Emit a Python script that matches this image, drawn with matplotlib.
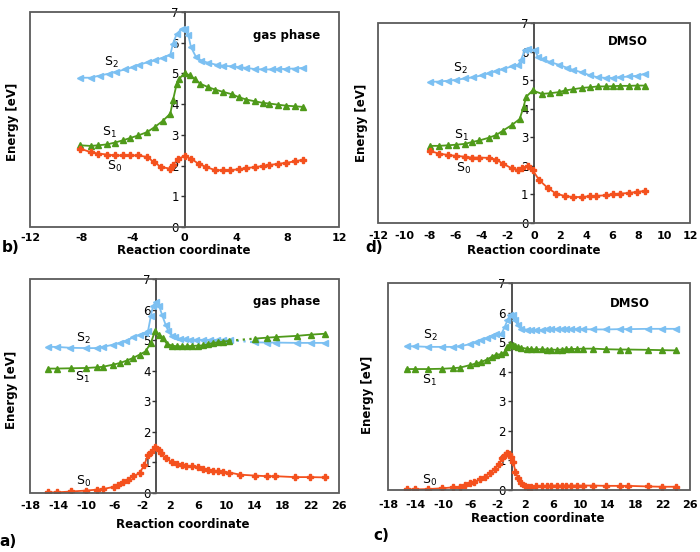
from matplotlib import pyplot as plt
from matplotlib.patches import Rectangle

# Panel b) gas phase, short coordinate
b_s2_x = [-8.1, -7.3, -6.6, -5.9, -5.3, -4.6, -4.0, -3.5, -2.8, -2.3, -1.7, -1.1, -0.9, -0.6, -0.2, 0.0,
          0.3, 0.5, 0.9, 1.3, 1.8, 2.5, 3.0, 3.7, 4.2, 4.8, 5.5, 6.1, 6.8, 7.3, 7.9, 8.6, 9.2]
b_s2_y = [4.86, 4.86, 4.93, 4.99, 5.06, 5.13, 5.21, 5.29, 5.37, 5.43, 5.51, 5.61, 5.97, 6.29, 6.46, 6.46,
          6.24, 5.86, 5.53, 5.42, 5.35, 5.28, 5.25, 5.23, 5.21, 5.18, 5.14, 5.13, 5.13, 5.14, 5.15, 5.16, 5.18]
b_s1_x = [-8.1, -7.3, -6.7, -6.0, -5.4, -4.8, -4.2, -3.6, -2.9, -2.3, -1.7, -1.1, -0.9, -0.6, -0.4, 0.0,
          0.4, 0.8, 1.2, 1.8, 2.4, 3.0, 3.7, 4.2, 4.8, 5.5, 6.1, 6.6, 7.3, 7.9, 8.6, 9.2]
b_s1_y = [2.66, 2.64, 2.66, 2.69, 2.75, 2.82, 2.90, 2.98, 3.09, 3.26, 3.45, 3.69, 4.12, 4.67, 4.83, 5.01,
          4.94, 4.82, 4.67, 4.56, 4.47, 4.40, 4.32, 4.23, 4.15, 4.09, 4.04, 4.02, 3.98, 3.95, 3.93, 3.91]
b_s0_x = [-8.1, -7.3, -6.7, -6.0, -5.4, -4.8, -4.2, -3.6, -2.9, -2.4, -1.8, -1.1, -0.9, -0.5, 0.0,
          0.5, 1.1, 1.7, 2.4, 3.0, 3.5, 4.2, 4.8, 5.5, 6.1, 6.6, 7.3, 7.9, 8.6, 9.2]
b_s0_y = [2.55, 2.44, 2.39, 2.36, 2.33, 2.33, 2.33, 2.33, 2.28, 2.12, 1.95, 1.90, 2.01, 2.22, 2.31,
          2.22, 2.06, 1.95, 1.85, 1.85, 1.85, 1.88, 1.92, 1.95, 1.99, 2.02, 2.06, 2.09, 2.14, 2.19]

# Panel d) DMSO, short coordinate
d_s2_x = [-8.0, -7.3, -6.6, -6.0, -5.3, -4.7, -4.0, -3.5, -2.9, -2.4, -1.7, -1.2, -1.0, -0.7, -0.45, 0.05,
          0.3, 0.7, 1.2, 1.9, 2.5, 3.0, 3.7, 4.3, 4.9, 5.5, 6.1, 6.6, 7.3, 7.9, 8.5]
d_s2_y = [4.94, 4.95, 4.98, 5.01, 5.06, 5.10, 5.17, 5.24, 5.32, 5.39, 5.48, 5.54, 5.71, 6.06, 6.08, 6.06,
          5.82, 5.73, 5.64, 5.54, 5.44, 5.36, 5.27, 5.17, 5.10, 5.08, 5.08, 5.10, 5.13, 5.15, 5.22]
d_s1_x = [-8.0, -7.3, -6.6, -6.0, -5.3, -4.8, -4.2, -3.5, -2.9, -2.4, -1.7, -1.1, -0.8, -0.6, -0.1,
          0.6, 1.2, 1.9, 2.4, 3.0, 3.7, 4.3, 4.9, 5.5, 6.1, 6.6, 7.3, 7.9, 8.5]
d_s1_y = [2.70, 2.70, 2.72, 2.74, 2.77, 2.83, 2.89, 2.98, 3.08, 3.23, 3.43, 3.64, 4.07, 4.42, 4.64,
          4.52, 4.54, 4.58, 4.64, 4.68, 4.73, 4.75, 4.78, 4.78, 4.79, 4.80, 4.80, 4.81, 4.81]
d_s0_x = [-8.0, -7.3, -6.6, -6.0, -5.3, -4.8, -4.2, -3.5, -2.9, -2.4, -1.7, -1.2, -0.9, -0.5, -0.1,
          0.4, 1.1, 1.7, 2.4, 3.0, 3.7, 4.3, 4.8, 5.5, 6.1, 6.6, 7.3, 7.9, 8.5]
d_s0_y = [2.52, 2.43, 2.38, 2.35, 2.32, 2.29, 2.29, 2.28, 2.22, 2.08, 1.91, 1.85, 1.93, 2.00, 1.85,
          1.50, 1.21, 1.03, 0.94, 0.91, 0.91, 0.94, 0.95, 0.97, 1.01, 1.03, 1.05, 1.09, 1.12]

# Panel a) gas phase, long coordinate
a_s2_x = [-15.4, -14.2, -12.3, -10.0, -8.5, -7.6, -6.2, -5.2, -4.3, -3.3, -2.4, -1.6, -1.2, -0.8, -0.5,
          -0.1, 0.4, 0.8, 1.3, 1.7, 2.2, 2.6, 3.3, 4.0, 4.8, 5.7, 6.7, 7.6, 8.6, 9.5, 10.5,
          14.0, 15.7, 17.0, 20.0, 22.0, 24.0]
a_s2_y = [4.78, 4.78, 4.75, 4.74, 4.74, 4.78, 4.85, 4.91, 4.98, 5.09, 5.18, 5.23, 5.29, 5.78, 6.11,
          6.24, 6.11, 5.83, 5.51, 5.29, 5.15, 5.09, 5.05, 5.04, 5.02, 5.01, 5.01, 5.01, 5.01, 5.01, 5.00,
          4.93, 4.92, 4.92, 4.91, 4.91, 4.91]
a_s1_x = [-15.4, -14.2, -12.1, -10.0, -8.5, -7.6, -6.15, -5.2, -4.25, -3.3, -2.35, -1.55, -0.8, -0.2,
          0.4, 0.9, 1.5, 2.2, 2.9, 3.6, 4.3, 5.0, 5.9, 6.7, 7.4, 8.1, 8.8, 9.5, 10.4,
          14.0, 15.7, 17.0, 20.0, 22.0, 24.0]
a_s1_y = [4.07, 4.07, 4.08, 4.09, 4.11, 4.13, 4.20, 4.25, 4.33, 4.42, 4.53, 4.63, 4.91, 5.29,
          5.18, 5.07, 4.88, 4.82, 4.80, 4.80, 4.80, 4.81, 4.82, 4.83, 4.87, 4.91, 4.93, 4.95, 4.98,
          5.05, 5.08, 5.10, 5.14, 5.18, 5.21]
a_s0_x = [-15.4, -14.2, -12.1, -10.0, -8.5, -7.6, -6.1, -5.4, -4.7, -4.0, -3.3, -2.4, -1.7, -1.2, -0.7,
          -0.2, 0.3, 0.7, 1.3, 2.2, 2.9, 3.6, 4.2, 5.0, 5.9, 6.7, 7.4, 8.1, 8.8, 9.5,
          10.4, 11.9, 14.0, 15.7, 16.9, 19.7, 21.8, 24.0]
a_s0_y = [0.02, 0.02, 0.05, 0.08, 0.11, 0.13, 0.20, 0.27, 0.35, 0.44, 0.55, 0.65, 0.93, 1.25, 1.33,
          1.49, 1.42, 1.31, 1.14, 1.01, 0.95, 0.93, 0.89, 0.87, 0.84, 0.80, 0.76, 0.73, 0.71, 0.69,
          0.67, 0.60, 0.57, 0.55, 0.55, 0.52, 0.52, 0.51]
# last solid point before the dotted stretch in panel a
a_s2_gap = 30
a_s1_gap = 28

# Panel c) DMSO, long coordinate
c_x = [-15.3, -14.1, -12.2, -10.1, -8.5, -7.5, -6.1, -5.2, -4.4, -3.6, -2.9, -2.2, -1.5, -1.0, -0.6,
       -0.25, 0.14, 0.48, 0.96, 1.45, 2.2, 2.9, 3.6, 4.4, 5.1, 5.8, 6.6, 7.3, 8.0, 8.7,
       9.5, 10.4, 11.9, 13.8, 15.8, 17.0, 19.9, 21.9, 24.0]
c_s2_y = [4.86, 4.86, 4.84, 4.84, 4.84, 4.86, 4.93, 4.99, 5.06, 5.14, 5.22, 5.29, 5.27, 5.51, 5.74,
          5.91, 5.93, 5.74, 5.57, 5.46, 5.42, 5.40, 5.40, 5.41, 5.44, 5.44, 5.45, 5.45, 5.45, 5.45,
          5.44, 5.44, 5.43, 5.43, 5.44, 5.44, 5.45, 5.45, 5.45]
c_s1_y = [4.09, 4.09, 4.09, 4.10, 4.12, 4.14, 4.22, 4.28, 4.33, 4.41, 4.50, 4.58, 4.59, 4.67, 4.82,
          4.93, 4.90, 4.86, 4.84, 4.81, 4.78, 4.76, 4.76, 4.76, 4.75, 4.75, 4.74, 4.75, 4.76, 4.77,
          4.77, 4.78, 4.78, 4.76, 4.75, 4.75, 4.74, 4.73, 4.72]
c_s0_x = [-15.3, -14.1, -12.2, -10.1, -8.5, -7.5, -6.8, -6.1, -5.4, -4.6, -3.9, -3.2, -2.4, -1.86, -1.37,
          -0.98, -0.64, -0.35, -0.01, 0.23, 0.57, 0.96, 1.45, 1.93, 2.42, 2.9, 3.6, 4.4, 5.1, 5.8,
          6.6, 7.3, 8.0, 8.7, 9.5, 10.4, 11.9, 13.8, 15.8, 17.0, 19.9, 21.9, 24.0]
c_s0_y = [0.02, 0.02, 0.03, 0.06, 0.09, 0.11, 0.17, 0.23, 0.28, 0.36, 0.45, 0.56, 0.71, 0.87, 1.07,
          1.18, 1.24, 1.22, 1.13, 0.96, 0.62, 0.39, 0.23, 0.14, 0.11, 0.11, 0.14, 0.14, 0.14, 0.15,
          0.15, 0.15, 0.15, 0.15, 0.15, 0.15, 0.15, 0.14, 0.14, 0.14, 0.12, 0.11, 0.11]

BLUE = '#7cc0f2'
GREEN = '#4f9a1a'
RED = '#f4511e'

plt.rcParams['font.family'] = 'DejaVu Sans'
plt.rcParams['mathtext.default'] = 'regular'
plt.rcParams['axes.unicode_minus'] = False


def curve(ax, x, y, color, marker, ms, gap=None):
    """Draws one state curve; a dotted stretch follows point `gap` if given."""
    if gap is None:
        ax.plot(x, y, color=color, lw=1.3, marker=marker, ms=ms, mec=color, zorder=3)
        return
    ax.plot(x[:gap + 1], y[:gap + 1], color=color, lw=1.3, marker=marker, ms=ms, mec=color, zorder=3)
    ax.plot(x[gap:gap + 2], y[gap:gap + 2], color=color, lw=1.6, ls=(0, (1, 2)), zorder=3)
    ax.plot(x[gap + 1:], y[gap + 1:], color=color, lw=1.3, marker=marker, ms=ms, mec=color, zorder=3)


def frame(ax, xlim, xticks, xpad):
    """Box frame, y axis crossing at x = 0."""
    ax.set_xlim(xlim)
    ax.set_ylim(0, 7)
    ax.set_xticks(list(xticks))
    ax.set_xticklabels([str(t) for t in xticks], fontweight='bold')
    ax.set_yticks(range(8))
    ax.set_yticklabels([str(t) for t in range(8)], fontweight='bold')
    for s in ['top', 'right', 'bottom']:
        ax.spines[s].set_visible(False)
    ax.spines['left'].set_position(('data', 0))
    ax.spines['left'].set_color('#333333')
    ax.spines['left'].set_linewidth(1.2)
    ax.add_patch(Rectangle((0, 0), 1, 1, transform=ax.transAxes, fill=False,
                           ec='#5a5a5a', lw=1.3, clip_on=False, zorder=4))
    ax.tick_params(axis='x', length=0, pad=xpad, labelsize=8)
    ax.tick_params(axis='y', length=3, width=1, direction='out', pad=1, labelsize=8.5, color='#333333')


def state_labels(ax, pos):
    for (xx, yy), n in zip(pos, ['2', '1', '0']):
        ax.text(xx, yy, 'S$_{' + n + '}$', fontsize=9, ha='center', va='center')


fig = plt.figure(figsize=(7, 5.52), dpi=100)
W, H = 700.0, 552.0


def axes_px(l, t, r, b):
    return fig.add_axes([l / W, 1 - b / H, (r - l) / W, (b - t) / H])


def fig_text(x, y, s, **kw):
    fig.text(x / W, 1 - y / H, s, fontweight='bold', ha='center', va='center', **kw)


# b) top left
ax = axes_px(30, 12, 339, 227)
frame(ax, (-12, 12), range(-12, 13, 4), 4)
curve(ax, b_s2_x, b_s2_y, BLUE, '<', 5)
curve(ax, b_s1_x, b_s1_y, GREEN, '^', 5)
curve(ax, b_s0_x, b_s0_y, RED, 'P', 4.5)
state_labels(ax, [(-5.7, 5.37), (-5.8, 3.09), (-5.4, 1.98)])
ax.text(7.9, 6.24, 'gas phase', fontsize=8.5, fontweight='bold', ha='center', va='center')
fig_text(184, 250, 'Reaction coordinate', fontsize=8.5)
fig_text(13, 122, 'Energy [eV]', fontsize=8.5, rotation=90)
fig_text(11, 247, 'b)', fontsize=11)

# d) top right
ax = axes_px(378, 23, 690, 223)
frame(ax, (-12, 12), range(-12, 13, 2), 6)
curve(ax, d_s2_x, d_s2_y, BLUE, '<', 5)
curve(ax, d_s1_x, d_s1_y, GREEN, '^', 5)
curve(ax, d_s0_x, d_s0_y, RED, 'P', 4.5)
state_labels(ax, [(-5.7, 5.42), (-5.6, 3.08), (-5.45, 1.91)])
ax.text(7.25, 6.36, 'DMSO', fontsize=8.5, fontweight='bold', ha='center', va='center')
fig_text(534, 250, 'Reaction coordinate', fontsize=8.5)
fig_text(362, 123, 'Energy [eV]', fontsize=8.5, rotation=90)
fig_text(374, 248, 'd)', fontsize=11)

# a) bottom left
ax = axes_px(30, 279, 339, 493)
frame(ax, (-18, 26), range(-18, 27, 4), 6)
curve(ax, a_s2_x, a_s2_y, BLUE, '<', 5, gap=a_s2_gap)
curve(ax, a_s1_x, a_s1_y, GREEN, '^', 5, gap=a_s1_gap)
curve(ax, a_s0_x, a_s0_y, RED, 'P', 4.5)
state_labels(ax, [(-10.4, 5.07), (-10.5, 3.79), (-10.4, 0.38)])
ax.text(18.6, 6.25, 'gas phase', fontsize=8.5, fontweight='bold', ha='center', va='center')
fig_text(183, 524, 'Reaction coordinate', fontsize=8.5)
fig_text(12, 390, 'Energy [eV]', fontsize=8.5, rotation=90)
fig_text(8, 542, 'a)', fontsize=11)

# c) bottom right
ax = axes_px(388, 283, 690, 490)
frame(ax, (-18, 26), range(-18, 27, 4), 7)
curve(ax, c_x, c_s2_y, BLUE, '<', 5)
curve(ax, c_x, c_s1_y, GREEN, '^', 5)
curve(ax, c_s0_x, c_s0_y, RED, 'P', 4.5)
state_labels(ax, [(-11.9, 5.23), (-11.9, 3.71), (-11.9, 0.32)])
ax.text(17.25, 6.3, 'DMSO', fontsize=8.5, fontweight='bold', ha='center', va='center')
fig_text(538, 519, 'Reaction coordinate', fontsize=8.5)
fig_text(368, 395, 'Energy [eV]', fontsize=8.5, rotation=90)
fig_text(381, 536, 'c)', fontsize=11)

fig.savefig('out.png', dpi=100)
